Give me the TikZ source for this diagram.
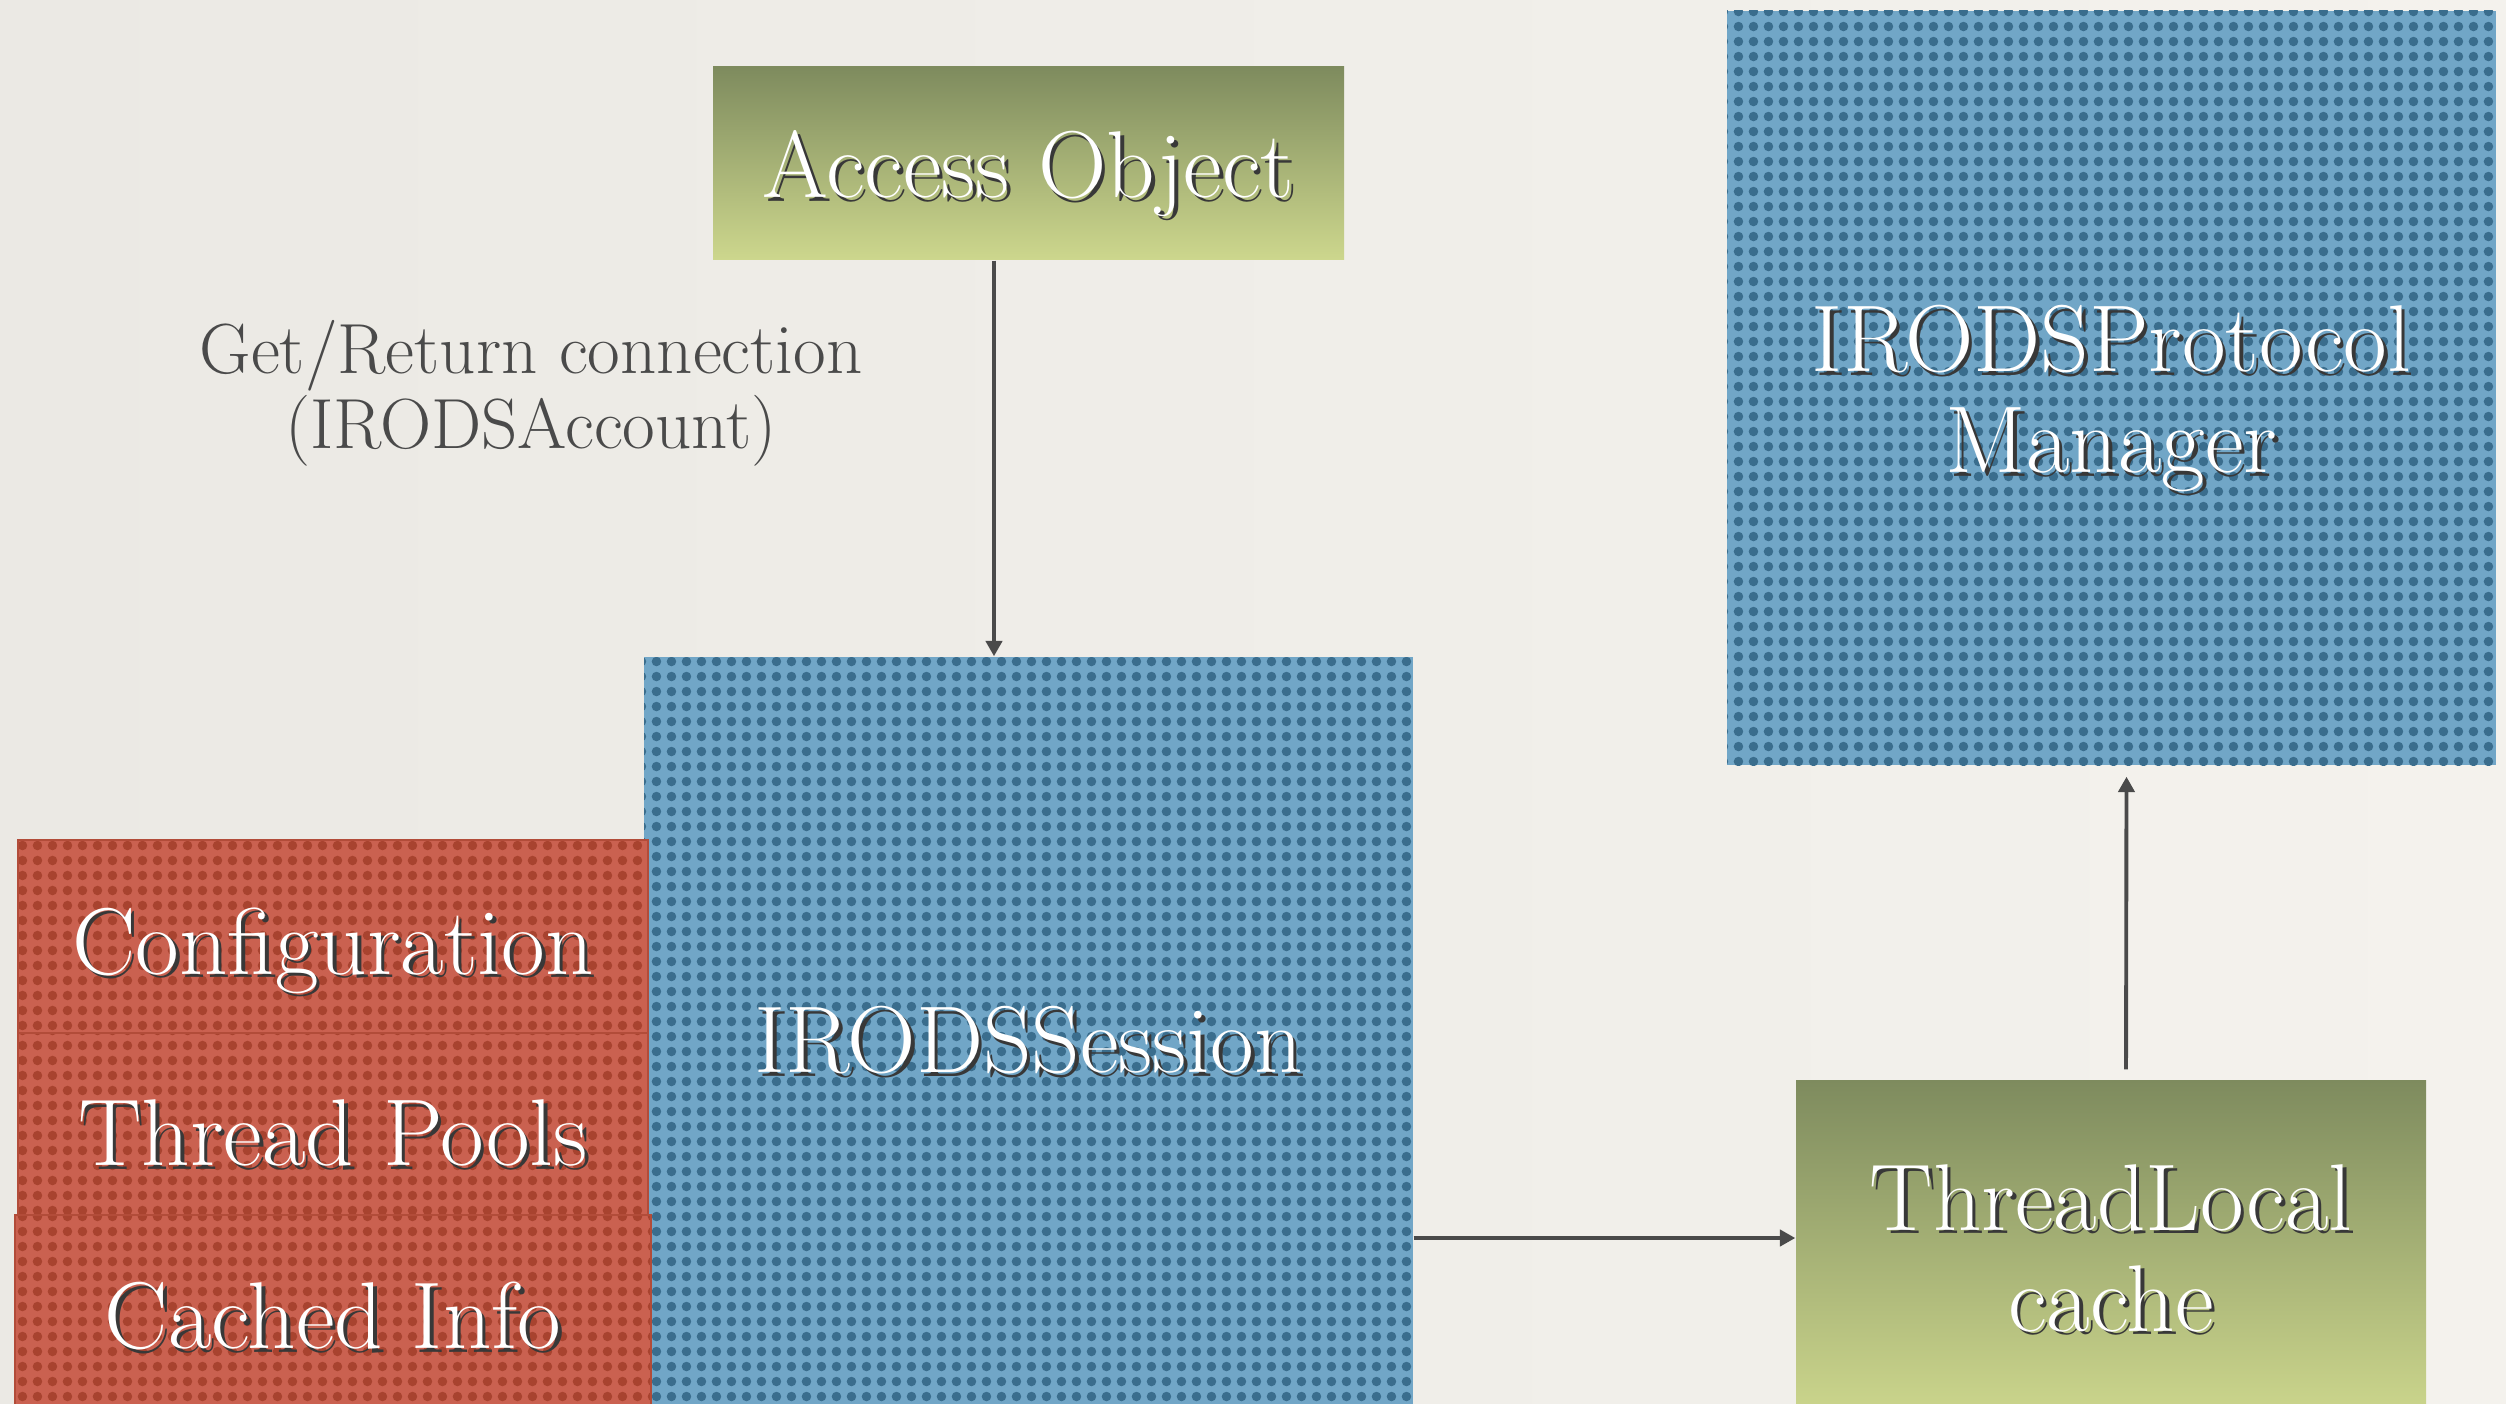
\documentclass[tikz,border=0pt]{standalone}
\usetikzlibrary{arrows.meta,patterns}

\definecolor{papelizq}{HTML}{EBE9E4}
\definecolor{papeldch}{HTML}{F4F2ED}
\definecolor{azulbase}{HTML}{71A6C7}
\definecolor{azulpunto}{HTML}{3A6D8D}
\definecolor{rojobase}{HTML}{CA6150}
\definecolor{rojopunto}{HTML}{A8432F}
\definecolor{verdearriba}{HTML}{7E8B5E}
\definecolor{verdeabajo}{HTML}{CDD78D}
\definecolor{gristexto}{HTML}{4A4A4A}
\definecolor{sombragris}{HTML}{383838}

% trama de puntos de las cajas
\pgfdeclarepatternformonly{puntos}{\pgfqpoint{0pt}{0pt}}{\pgfqpoint{4.4pt}{4.4pt}}{\pgfqpoint{4.4pt}{4.4pt}}{%
  \pgfpathcircle{\pgfqpoint{2.2pt}{2.2pt}}{1.4pt}\pgfusepath{fill}}

% texto blanco con sombra
\newcommand{\sombra}[1]{\leavevmode\rlap{\kern1pt\raisebox{-1pt}{\textcolor{sombragris}{#1}}}#1}

\begin{document}
\begin{tikzpicture}[
    caja/.style={inner sep=0pt, text=white, align=center,
      font=\fontsize{27}{28.7}\selectfont},
    azul/.style={caja, preaction={fill=azulbase}, pattern=puntos, pattern color=azulpunto},
    rojo/.style={caja, preaction={fill=rojobase}, pattern=puntos, pattern color=rojopunto,
      draw=rojopunto!70!rojobase, line width=0.6pt},
    verde/.style={caja, top color=verdearriba, bottom color=verdeabajo},
    flecha/.style={-{Triangle[width=4.6pt,length=4.4pt]}, line width=1.1pt, gristexto}
  ]
    % Fondo
    \useasboundingbox (0,-14.03) rectangle (25.06,0);
    \clip (0,-14.03) rectangle (25.06,0);
    \fill[left color=papelizq, right color=papeldch] (0,-14.03) rectangle (25.06,0);

    % Cajas
    \node[verde, minimum width=6.31cm, minimum height=1.93cm, text height=26pt] (access) at (10.285,-1.635) {\sombra{Access Object}};
    \node[azul, minimum width=7.69cm, minimum height=7.70cm] (session) at (10.285,-10.42) {\sombra{IRODSSession}};
    \node[azul, minimum width=7.69cm, minimum height=7.54cm] (protocol) at (21.115,-3.88) {\rule{0pt}{26pt}\sombra{IRODSProtocol}\\\sombra{Manager}};
    \node[verde, minimum width=6.30cm, minimum height=3.40cm] (thread) at (21.11,-12.50) {\sombra{ThreadLocal}\\\sombra{cache}};

    % Cajas rojas de la sesion
    \node[rojo, minimum width=6.30cm, minimum height=1.93cm, text height=28pt] (config) at (3.33,-9.365) {\sombra{Configuration}};
    \node[rojo, minimum width=6.30cm, minimum height=1.82cm, text height=25pt] (pools) at (3.33,-11.24) {\sombra{Thread Pools}};
    \node[rojo, minimum width=6.36cm, minimum height=2.06cm] (cached) at (3.33,-13.18) {\sombra{Cached Info}};

    % Etiqueta de la conexion
    \node[align=center, text=gristexto, font=\fontsize{20.2}{21.4}\selectfont] (conexion) at (5.31,-3.93)
      {Get/Return connection\\(IRODSAccount)};

    % Flechas
    \draw[flecha] ([xshift=-3.45mm]access.south) -- ([xshift=-3.45mm]session.north);
    \draw[flecha] ([yshift=1.2mm]thread.west -| session.east) -- ([yshift=1.2mm]thread.west);
    \draw[flecha, shorten <=1mm, shorten >=1.1mm] ([xshift=1.5mm]thread.north) -- ([xshift=1.5mm]protocol.south);
\end{tikzpicture}
\end{document}
